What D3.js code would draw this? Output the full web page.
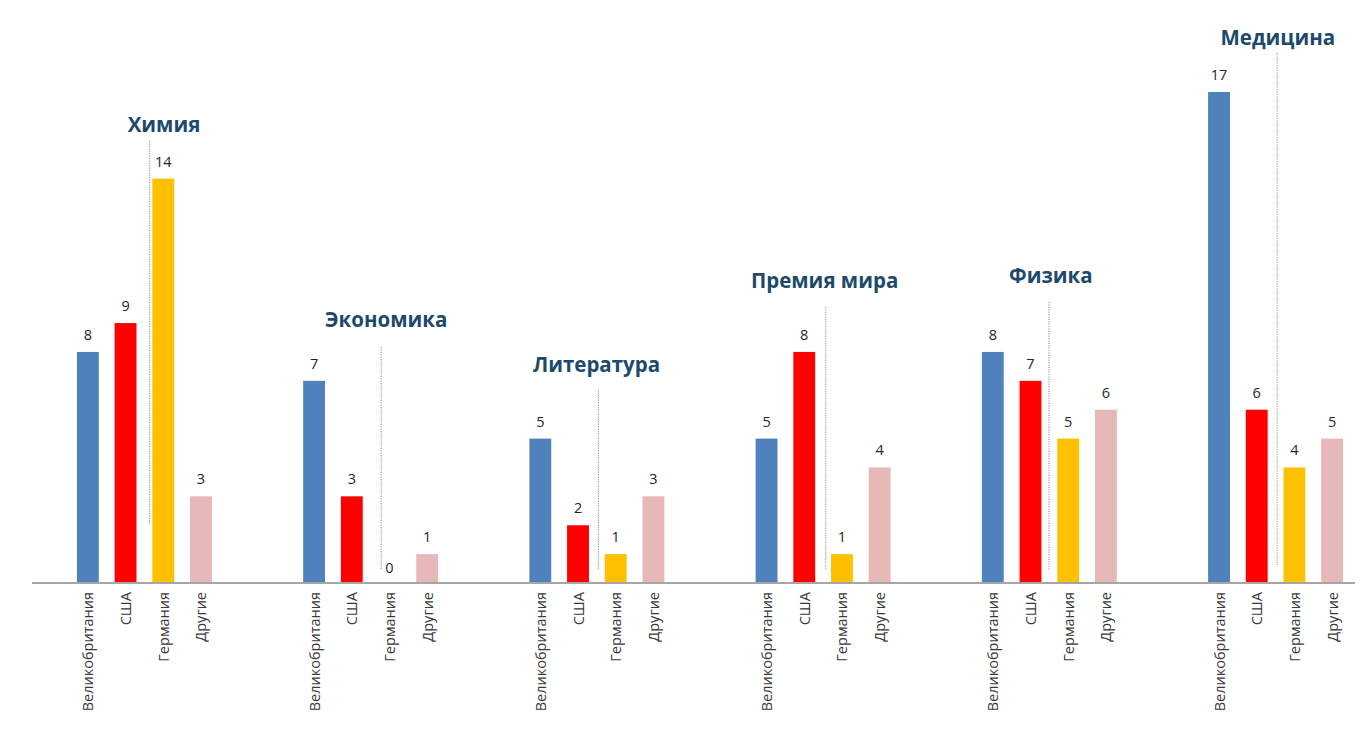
<!DOCTYPE html>
<html>
<head>
<meta charset="utf-8">
<script src="https://cdn.jsdelivr.net/npm/d3@7"></script>
<style>
  body { margin: 0; background: #fff; }
  svg { display: block; }
  .value { font-family: "Open Sans", sans-serif; font-size: 14.5px; fill: #262626; text-anchor: middle; }
  .cat { font-family: "Open Sans", sans-serif; font-size: 14.5px; fill: #3a3a3a; }
  .title { font-family: "Open Sans", sans-serif; font-weight: 700; font-size: 20.5px; fill: #1d4a6c; text-anchor: middle; }
  .leader { stroke: #8a8a8a; stroke-width: 1; stroke-dasharray: 1.2 1.2; }
</style>
</head>
<body>
<script>
// Nobel prizes by field and country
const fields = ["Химия", "Экономика", "Литература", "Премия мира", "Физика", "Медицина"];
const countries = ["Великобритания", "США", "Германия", "Другие"];

const britain = [8, 7, 5, 5, 8, 17];
const usa     = [9, 3, 2, 8, 7, 6];
const germany = [14, 0, 1, 1, 5, 4];
const others  = [3, 1, 3, 4, 6, 5];

// where the field titles and their dotted leaders sit (slot offsets / value units)
const titleShift  = [2.02, 1.91, 1.49, 1.54, 1.54, 1.56];
const leaderShift = [1.64, 1.78, 1.54, 1.57, 1.49, 1.54];
const titleLevel  = [15.6, 8.86, 7.31, 10.2, 10.4, 18.63];
const leaderTop   = [15.3, 8.17, 6.68, 9.56, 9.73, 18.35];
const leaderEnd   = [2.0, 0.45, 0.45, 0.45, 0.45, 0.62];

const colors = ["#4f81bd", "#ff0000", "#ffc000", "#e6b9b8"];

const width = 1362;
const height = 736;

const series = [britain, usa, germany, others];

// one slot per bar, plus two empty slots between fields
const slots = [];
const bars = [];
fields.forEach((f, i) => {
    countries.forEach((c, j) => {
        const key = f + "|" + c;
        slots.push(key);
        bars.push({ key, field: i, country: j, value: series[j][i] });
    });
    if (i < fields.length - 1) {
        slots.push("gap1-" + i);
        slots.push("gap2-" + i);
    }
});

const svg = d3.select("body").append("svg")
    .attr("width", width)
    .attr("height", height);

const x = d3.scaleBand()
    .domain(slots)
    .range([69, 1351])
    .paddingInner(0.42)
    .paddingOuter(0.21);

const y = d3.scaleLinear()
    .domain([0, 17])
    .range([583, 92]);

// bars
svg.selectAll(".bar")
    .data(bars)
    .enter().append("rect")
    .attr("class", "bar")
    .attr("x", d => x(d.key))
    .attr("width", x.bandwidth())
    .attr("y", d => y(d.value))
    .attr("height", d => y(0) - y(d.value))
    .attr("fill", d => colors[d.country]);

// value labels
svg.selectAll(".value")
    .data(bars)
    .enter().append("text")
    .attr("class", "value")
    .attr("x", d => x(d.key) + x.bandwidth() / 2)
    .attr("y", d => d.value === 0 ? y(0) - 10 : y(d.value) - 12)
    .text(d => d.value);

// category axis
const axis = svg.append("g")
    .attr("transform", `translate(0,${y(0)})`);

axis.append("line")
    .attr("x1", 32)
    .attr("x2", 1355)
    .attr("stroke", "#a6a6a6")
    .attr("stroke-width", 2);

axis.selectAll(".cat")
    .data(bars)
    .enter().append("text")
    .attr("class", "cat")
    .attr("text-anchor", "end")
    .attr("dominant-baseline", "central")
    .attr("transform", d => `translate(${x(d.key) + x.bandwidth() / 2},9) rotate(-90)`)
    .text(d => countries[d.country]);

// field titles with dotted leaders
const step = x.step();
const groupX = i => x(fields[i] + "|" + countries[0]) + x.bandwidth() / 2;

const titles = svg.selectAll(".field")
    .data(fields)
    .enter().append("g")
    .attr("class", "field");

titles.append("line")
    .attr("class", "leader")
    .attr("x1", (d, i) => groupX(i) + leaderShift[i] * step)
    .attr("x2", (d, i) => groupX(i) + leaderShift[i] * step)
    .attr("y1", (d, i) => y(leaderTop[i]))
    .attr("y2", (d, i) => y(leaderEnd[i]));

titles.append("text")
    .attr("class", "title")
    .attr("x", (d, i) => groupX(i) + titleShift[i] * step)
    .attr("y", (d, i) => y(titleLevel[i]))
    .text(d => d);
</script>
</body>
</html>
